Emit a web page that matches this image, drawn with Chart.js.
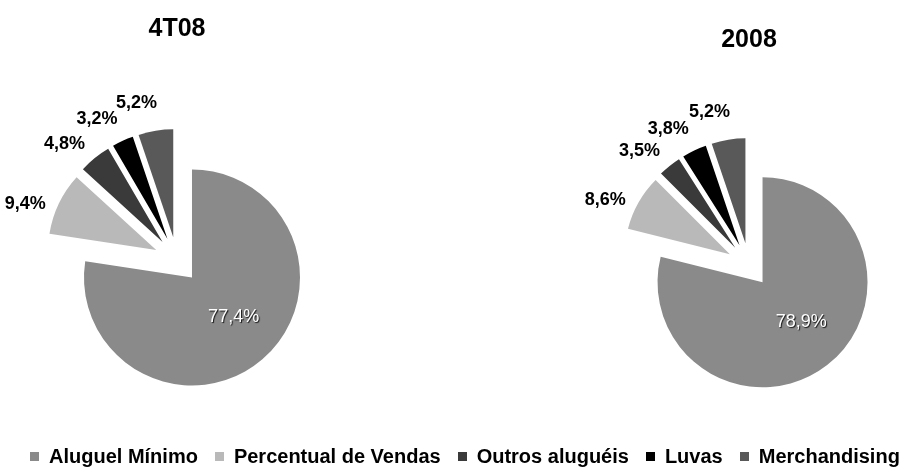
<!DOCTYPE html>
<html>
<head>
<meta charset="utf-8">
<script src="https://cdn.jsdelivr.net/npm/chart.js@4.4.1/dist/chart.umd.min.js"></script>
<style>
  html, body { margin: 0; padding: 0; background: #fff; overflow: hidden; }
  #wrap { position: relative; width: 908px; height: 468px; overflow: hidden; }
  #box1 { position: absolute; left: 0; top: 0; width: 354px; height: 480px; }
  #box2 { position: absolute; left: 580px; top: 0; width: 328px; height: 480px; }
  #legend {
    position: absolute; left: 30px; top: 446px;
    display: flex; align-items: center; white-space: nowrap;
    font: bold 20px "Liberation Sans", Arial, sans-serif; line-height: 20px; color: #000;
  }
  #legend .item { display: flex; align-items: center; margin-right: 17px; }
  #legend .mark { width: 9px; height: 9px; margin-right: 10px; }
</style>
</head>
<body>
<div id="wrap">
  <div id="box1"><canvas id="pie4T08"></canvas></div>
  <div id="box2"><canvas id="pie2008"></canvas></div>
  <div id="legend"></div>
</div>
<script>
/* Data */
const categories = ['Aluguel Mínimo', 'Percentual de Vendas', 'Outros aluguéis', 'Luvas', 'Merchandising'];
const share4T08 = [77.4, 9.4, 4.8, 3.2, 5.2];
const share2008 = [78.9, 8.6, 3.5, 3.8, 5.2];

const colors = ['#8a8a8a', '#b9b9b9', '#3a3a3a', '#000000', '#595959'];
const FONT = '"Liberation Sans", Arial, sans-serif';

/* move every slice out along its own bisector (excel style explode) */
const explode = {
    id: 'explode',
    afterDatasetUpdate(chart, args, opts) {
        const d = opts.distance || 0;
        args.meta.data.forEach(arc => {
            const mid = (arc.startAngle + arc.endAngle) / 2;
            arc.x += Math.cos(mid) * d;
            arc.y += Math.sin(mid) * d;
        });
    }
};

/* percentage labels: big slice inside, the others outside */
const sliceLabels = {
    id: 'sliceLabels',
    afterDatasetsDraw(chart, args, opts) {
        const ctx = chart.ctx;
        const meta = chart.getDatasetMeta(0);
        const values = chart.data.datasets[0].data;
        const shift = (opts.shift || 0) * Math.PI / 180;
        meta.data.forEach((arc, i) => {
            const a = (arc.startAngle + arc.endAngle) / 2 - shift;
            const r = arc.outerRadius;
            const text = values[i].toFixed(1).replace('.', ',') + '%';
            ctx.save();
            ctx.textAlign = 'center';
            ctx.textBaseline = 'middle';
            let dist;
            if (i === 0) {
                dist = r * 0.53;
                ctx.font = '18px ' + FONT;
                ctx.fillStyle = '#ffffff';
                ctx.shadowColor = 'rgba(0,0,0,0.85)';
                ctx.shadowOffsetX = 1;
                ctx.shadowOffsetY = 1;
                ctx.shadowBlur = 1;
            } else {
                dist = r + 31;
                ctx.font = 'bold 18px ' + FONT;
                ctx.fillStyle = '#000000';
            }
            ctx.fillText(text, arc.x + Math.cos(a) * dist, arc.y + Math.sin(a) * dist);
            ctx.restore();
        });
    }
};

function makePie(id, title, values, radius, explodeBy, titleTop, padding) {
    return new Chart(id, {
        type: 'pie',
        data: {
            labels: categories,
            datasets: [{
                data: values,
                backgroundColor: colors,
                borderWidth: 0,
                radius: radius
            }]
        },
        plugins: [explode, sliceLabels],
        options: {
            responsive: true,
            maintainAspectRatio: false,
            animation: false,
            events: [],
            layout: { padding: padding },
            plugins: {
                legend: { display: false },
                tooltip: { enabled: false },
                title: {
                    display: true,
                    text: title,
                    color: '#000',
                    font: { family: FONT, size: 25, weight: 'bold', lineHeight: 1.2 },
                    padding: { top: titleTop, bottom: 0 }
                },
                explode: { distance: explodeBy },
                sliceLabels: { shift: 6 }
            }
        }
    });
}

makePie('pie4T08', '4T08', share4T08, 108, 23, 14, { left: 0, right: 0, top: 0, bottom: 4 });
makePie('pie2008', '2008', share2008, 105, 22, 25, { left: 10, right: 0, top: 0, bottom: 5 });

/* shared legend */
const legendEl = document.getElementById('legend');
categories.forEach((name, i) => {
    const item = document.createElement('span');
    item.className = 'item';
    const mark = document.createElement('span');
    mark.className = 'mark';
    mark.style.background = colors[i];
    item.appendChild(mark);
    item.appendChild(document.createTextNode(name));
    legendEl.appendChild(item);
});
</script>
</body>
</html>
